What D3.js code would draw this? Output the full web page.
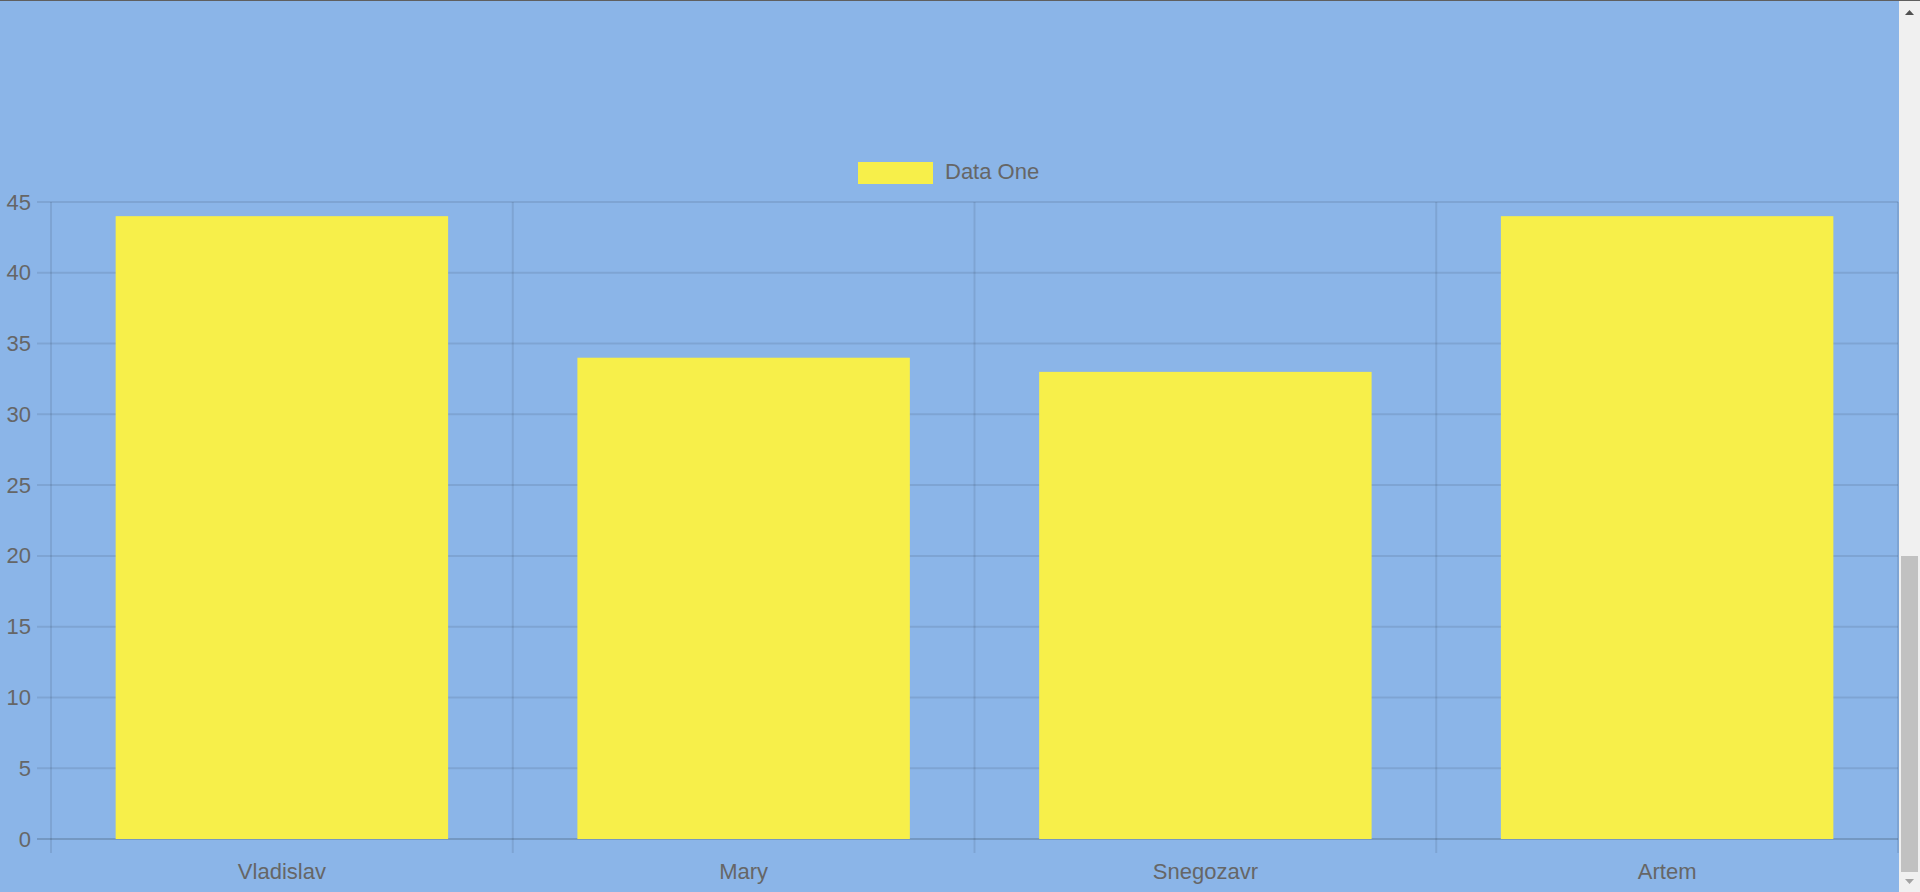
<!DOCTYPE html>
<html>
<head>
<meta charset="utf-8">
<script src="https://cdn.jsdelivr.net/npm/d3@7"></script>
<style>
  html, body { margin: 0; padding: 0; overflow: hidden; background: #8bb5e8; }
  svg { display: block; }
</style>
</head>
<body>
<svg id="chart" width="1920" height="892"></svg>
<script>
const categories = ["Vladislav", "Mary", "Snegozavr", "Artem"];
const seriesName = "Data One";
const values = [44, 34, 33, 44];
const yTicks = [0, 5, 10, 15, 20, 25, 30, 35, 40, 45];

const W = 1920, H = 892;
const plot = { left: 51, right: 1898, top: 202, bottom: 839 };
const font = "'Liberation Sans', Arial, Helvetica, sans-serif";
const textColor = "#666";
const gridColor = "rgba(0,0,0,0.09)";
const barColor = "#f7ef4a";

const svg = d3.select("#chart");
svg.append("rect").attr("width", W).attr("height", H).attr("fill", "#8bb5e8");

const x = d3.scaleBand().domain(categories).range([plot.left, plot.right])
  .paddingInner(0.28).paddingOuter(0.14);
const xGrid = d3.scaleBand().domain(categories).range([plot.left, plot.right]).padding(0);
const y = d3.scaleLinear().domain([0, 45]).range([plot.bottom, plot.top]);

// horizontal grid lines (with tick marks extending left)
svg.append("g").selectAll("line").data(yTicks).join("line")
  .attr("x1", plot.left - 14).attr("x2", plot.right)
  .attr("y1", d => y(d)).attr("y2", d => y(d))
  .attr("stroke", d => d === 0 ? "rgba(0,0,0,0.16)" : gridColor)
  .attr("stroke-width", 2);

// vertical grid lines at category boundaries (with ticks extending below)
const vLines = categories.map(c => xGrid(c)).concat([plot.right]);
svg.append("g").selectAll("line").data(vLines).join("line")
  .attr("x1", d => d).attr("x2", d => d)
  .attr("y1", plot.top).attr("y2", plot.bottom + 14)
  .attr("stroke", gridColor).attr("stroke-width", 2);

// bars
svg.append("g").selectAll("rect").data(values).join("rect")
  .attr("x", (d, i) => x(categories[i]))
  .attr("width", x.bandwidth())
  .attr("y", d => y(d))
  .attr("height", d => y(0) - y(d))
  .attr("fill", barColor);

// y tick labels
svg.append("g").selectAll("text").data(yTicks).join("text")
  .attr("x", 31).attr("y", d => y(d))
  .attr("text-anchor", "end").attr("dominant-baseline", "central")
  .attr("font-family", font).attr("font-size", 22).attr("fill", textColor)
  .text(d => d);

// x tick labels
svg.append("g").selectAll("text").data(categories).join("text")
  .attr("x", d => xGrid(d) + xGrid.bandwidth() / 2).attr("y", 871)
  .attr("text-anchor", "middle").attr("dominant-baseline", "central")
  .attr("font-family", font).attr("font-size", 22).attr("fill", textColor)
  .text(d => d);

// legend
const lg = svg.append("g");
lg.append("rect").attr("x", 858).attr("y", 162).attr("width", 75).attr("height", 22)
  .attr("fill", barColor);
lg.append("text").attr("x", 945).attr("y", 171).attr("dominant-baseline", "central")
  .attr("font-family", font).attr("font-size", 22).attr("fill", textColor)
  .text(seriesName);

// top border line
svg.append("rect").attr("x", 0).attr("y", 0).attr("width", W).attr("height", 1).attr("fill", "#5f5f5f");

// browser scrollbar imitation
const sb = svg.append("g");
sb.append("rect").attr("x", 1899).attr("y", 1).attr("width", 21).attr("height", H - 1).attr("fill", "#f0f0f0");
sb.append("rect").attr("x", 1901).attr("y", 556).attr("width", 17).attr("height", 316).attr("fill", "#c1c1c1");
sb.append("path").attr("d", "M1905,15 L1914,15 L1909.5,10 Z").attr("fill", "#505050");
sb.append("path").attr("d", "M1905,879 L1914,879 L1909.5,884 Z").attr("fill", "#a3a3a3");
</script>
</body>
</html>
